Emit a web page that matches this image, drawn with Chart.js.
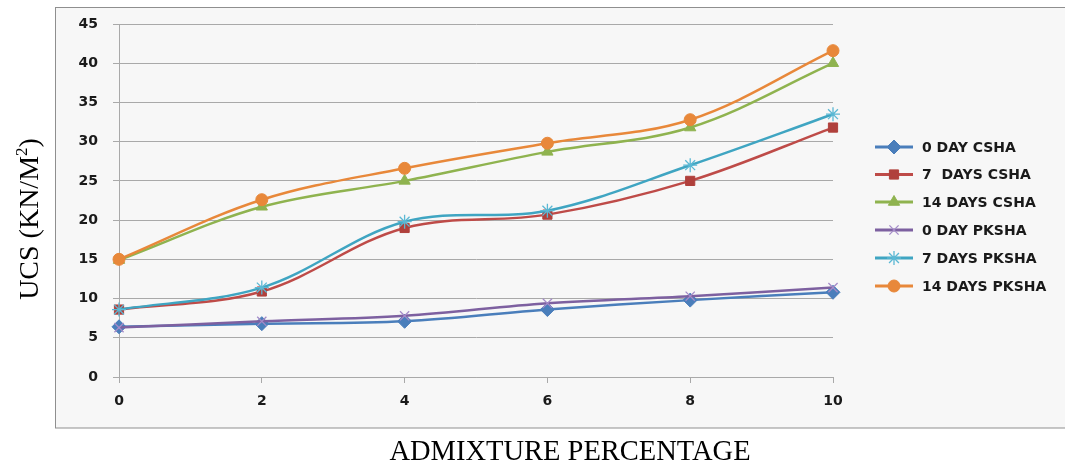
<!DOCTYPE html>
<html>
<head>
<meta charset="utf-8">
<script src="https://cdn.jsdelivr.net/npm/chart.js@4.4.1/dist/chart.umd.min.js"></script>
<style>
html,body{margin:0;padding:0;background:#ffffff;}
#wrap{position:relative;width:1065px;height:463px;}
</style>
</head>
<body>
<div id="wrap"><canvas id="c" width="1065" height="463"></canvas></div>
<script>
const admixture = [0, 2, 4, 6, 8, 10];
const day0CSHA   = [6.4, 6.8, 7.1, 8.6, 9.8, 10.8];
const day7CSHA   = [8.6, 10.9, 19.0, 20.7, 25.0, 31.8];
const day14CSHA  = [14.9, 21.7, 25.0, 28.7, 31.8, 40.0];
const day0PKSHA  = [6.3, 7.1, 7.8, 9.4, 10.3, 11.4];
const day7PKSHA  = [8.6, 11.4, 19.8, 21.2, 27.0, 33.5];
const day14PKSHA = [15.0, 22.6, 26.6, 29.8, 32.8, 41.6];
const seriesNames = ['0 DAY CSHA', '7  DAYS CSHA', '14 DAYS CSHA', '0 DAY PKSHA', '7 DAYS PKSHA', '14 DAYS PKSHA'];
const yTicks = [0, 5, 10, 15, 20, 25, 30, 35, 40, 45];
const xTitle = 'ADMIXTURE PERCENTAGE';
const yTitle = 'UCS (KN/M';

const seriesData = [day0CSHA, day7CSHA, day14CSHA, day0PKSHA, day7PKSHA, day14PKSHA];
const colors = ['#4A7EBB', '#BE4B48', '#8FB34F', '#7D60A0', '#3FA5C2', '#E8883A'];
const markerColors = ['#4A7EBB', '#B0403C', '#8FB34F', '#A48BC8', '#5BB8D4', '#E8883A'];
const styles = ['rectRot', 'rect', 'triangle', 'crossRot', 'star', 'circle'];
const radii = [7, 6.5, 6.5, 6.5, 7, 6];
const bw = s => (s === 'crossRot' || s === 'star') ? 1.3 : 1;

const GRID = '#a9a9a9';
const TICKFONT = {family: 'DejaVu Sans', size: 14, weight: 'bold'};

const frame = {
  id: 'frame',
  beforeDraw(chart) {
    const ctx = chart.ctx;
    ctx.save();
    ctx.fillStyle = '#ffffff';
    ctx.fillRect(0, 0, chart.width, chart.height);
    ctx.fillStyle = '#f7f7f7';
    ctx.fillRect(55.5, 7.5, 1020, 420.5);
    ctx.strokeStyle = '#8f8f8f';
    ctx.lineWidth = 1;
    ctx.strokeRect(55.5, 7.5, 1020, 420.5);
    ctx.restore();
  },
  afterDraw(chart) {
    const ctx = chart.ctx;
    ctx.save();
    ctx.fillStyle = '#000000';
    ctx.font = '28.5px "Liberation Serif"';
    ctx.textAlign = 'center';
    ctx.textBaseline = 'alphabetic';
    ctx.fillText(xTitle, 570, 460);
    ctx.translate(38, 219);
    ctx.rotate(-Math.PI / 2);
    ctx.font = '28px "Liberation Serif"';
    const w1 = ctx.measureText(yTitle).width;
    const w3 = ctx.measureText(')').width;
    ctx.font = '17px "Liberation Serif"';
    const w2 = ctx.measureText('2').width;
    const x0 = -(w1 + w2 + w3) / 2;
    ctx.textAlign = 'left';
    ctx.font = '28px "Liberation Serif"';
    ctx.fillText(yTitle, x0, 0);
    ctx.font = '17px "Liberation Serif"';
    ctx.fillText('2', x0 + w1, -11);
    ctx.font = '28px "Liberation Serif"';
    ctx.fillText(')', x0 + w1 + w2, 0);
    ctx.restore();

    ctx.save();
    const rows = [147, 174.5, 202, 230, 258, 286];
    for (let i = 0; i < seriesNames.length; i++) {
      const y = rows[i];
      ctx.strokeStyle = colors[i];
      ctx.lineWidth = 3;
      ctx.beginPath();
      ctx.moveTo(875, y);
      ctx.lineTo(913, y);
      ctx.stroke();
      if (Chart.helpers && Chart.helpers.drawPoint) {
        ctx.fillStyle = markerColors[i];
        ctx.strokeStyle = markerColors[i];
        ctx.lineWidth = bw(styles[i]);
        Chart.helpers.drawPoint(ctx, { pointStyle: styles[i], radius: radii[i], borderWidth: bw(styles[i]), rotation: 0 }, 894, y);
      }
      ctx.fillStyle = '#1a1a1a';
      ctx.font = 'bold 14px "DejaVu Sans"';
      ctx.textAlign = 'left';
      ctx.textBaseline = 'middle';
      ctx.fillText(seriesNames[i], 922, y + 1);
    }
    ctx.restore();
  }
};

const datasets = seriesData.map((d, i) => ({
  label: seriesNames[i],
  data: d,
  borderColor: colors[i],
  backgroundColor: markerColors[i],
  pointBackgroundColor: markerColors[i],
  pointBorderColor: markerColors[i],
  pointBorderWidth: bw(styles[i]),
  pointStyle: styles[i],
  pointRadius: radii[i],
  borderWidth: 2.5,
  tension: 0.35,
  fill: false,
  order: seriesData.length - 1 - i
}));

new Chart(document.getElementById('c'), {
  type: 'line',
  data: { labels: admixture.map(String), datasets },
  options: {
    responsive: false,
    animation: false,
    events: [],
    layout: { padding: { top: 24, right: 232, left: 0, bottom: 0 } },
    plugins: { legend: { display: false }, tooltip: { enabled: false } },
    scales: {
      x: {
        type: 'category',
        offset: false,
        grid: { drawOnChartArea: false, color: GRID, tickLength: 6, tickColor: GRID },
        border: { display: true, color: GRID, width: 1 },
        ticks: { font: TICKFONT, color: '#1a1a1a', padding: 10, maxRotation: 0 },
        afterFit(s) { s.height = 86; }
      },
      y: {
        min: 0, max: 45,
        afterBuildTicks(s) { s.ticks = yTicks.map(v => ({ value: v })); },
        grid: { color: GRID, tickLength: 6, tickColor: GRID, lineWidth: 1 },
        border: { display: true, color: GRID, width: 1 },
        ticks: { font: TICKFONT, color: '#1a1a1a', padding: 15 },
        afterFit(s) { s.width = 119; }
      }
    }
  },
  plugins: [frame]
});
</script>
</body>
</html>
